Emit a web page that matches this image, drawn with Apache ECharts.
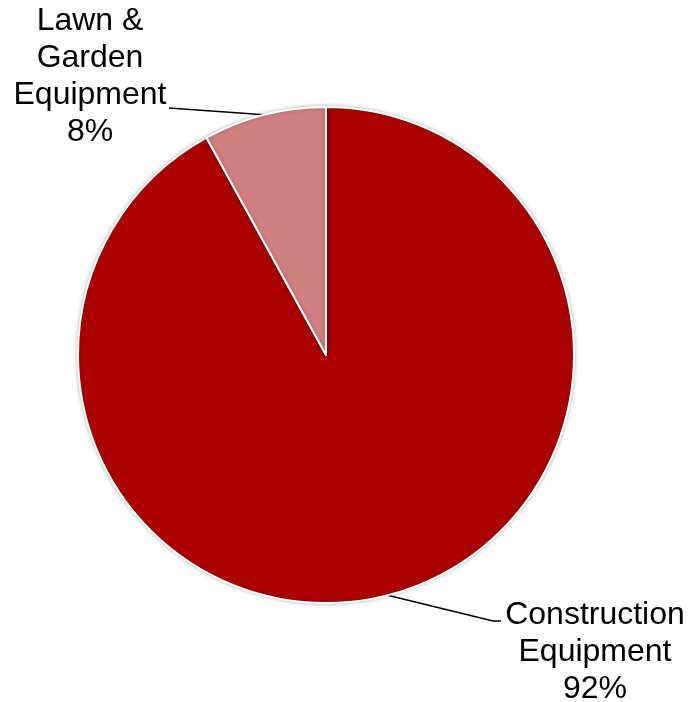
<!DOCTYPE html>
<html>
<head>
<meta charset="utf-8">
<script src="https://cdn.jsdelivr.net/npm/echarts@6/dist/echarts.min.js"></script>
<style>
  html, body { margin: 0; padding: 0; background: #fff; }
  #chart { width: 689px; height: 702px; }
</style>
</head>
<body>
<div id="chart"></div>
<script>
// categories and shares (percent)
var categories = ['Construction\nEquipment', 'Lawn &\nGarden\nEquipment']
var shares = [92, 8]
var colors = ['#AA0000', '#D08080']
// where each label block is centred, and where its leader line ends
var labelSpots = [[595, 652], [90, 77]]
var lineEnds = [[[493, 621], [501, 621]], [[169, 108], [169, 108]]]

var chart = echarts.init(document.getElementById('chart'))

chart.setOption({
  animation: false,
  series: [
    {
      type: 'pie',
      center: [326, 355],
      radius: [0, 248],
      startAngle: 90,
      clockwise: true,
      data: categories.map(function (name, i) {
        return { name: name, value: shares[i], itemStyle: { color: colors[i] } }
      }),
      itemStyle: {
        borderColor: '#fff',
        borderWidth: 2,
        shadowColor: 'rgba(0,0,0,0.25)',
        shadowBlur: 4
      },
      label: {
        show: true,
        position: 'outside',
        formatter: function (p) { return p.name + '\n' + p.value + '%' },
        color: '#000',
        fontFamily: 'Liberation Sans, Arial, sans-serif',
        fontSize: 32,
        lineHeight: 37,
        align: 'center'
      },
      labelLine: {
        show: true,
        length: 10,
        length2: 10,
        lineStyle: { color: '#000', width: 1.5 }
      },
      labelLayout: function (p) {
        var s = labelSpots[p.dataIndex]
        var out = { x: s[0], y: s[1], align: 'center', verticalAlign: 'middle' }
        if (p.labelLinePoints) {
          var e = lineEnds[p.dataIndex]
          out.labelLinePoints = [p.labelLinePoints[0], e[0], e[1]]
        }
        return out
      },
      emphasis: { disabled: true }
    }
  ]
})
</script>
</body>
</html>
